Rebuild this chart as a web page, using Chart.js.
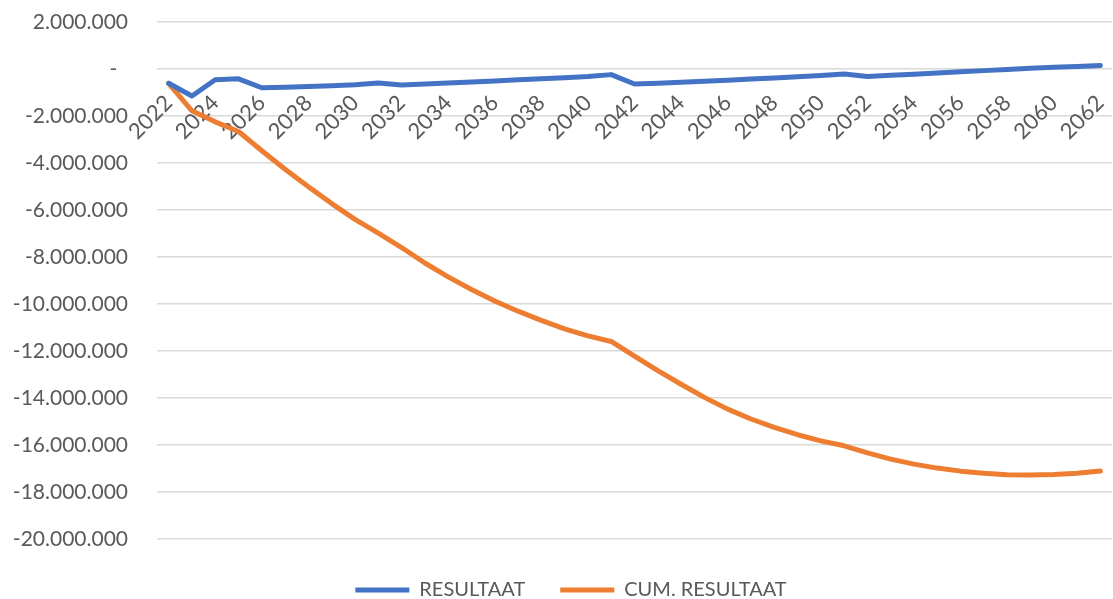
<!doctype html>
<html>
  <head>
    <script src="https://cdnjs.cloudflare.com/ajax/libs/Chart.js/4.4.1/chart.umd.js"></script>
    <style>
      html, body { margin: 0; padding: 0; background: #ffffff; }
      #wrap { width: 1113px; height: 599px; }
    </style>
    <script>
      let years = [2022, 2023, 2024, 2025, 2026, 2027, 2028, 2029, 2030, 2031,
                   2032, 2033, 2034, 2035, 2036, 2037, 2038, 2039, 2040, 2041,
                   2042, 2043, 2044, 2045, 2046, 2047, 2048, 2049, 2050, 2051,
                   2052, 2053, 2054, 2055, 2056, 2057, 2058, 2059, 2060, 2061, 2062];

      let resultaat = [-610000, -1150000, -460000, -420000, -800000, -780000, -750000, -710000, -670000, -600000,
                       -680000, -640000, -600000, -550000, -510000, -460000, -420000, -370000, -320000, -240000,
                       -640000, -610000, -570000, -520000, -480000, -430000, -380000, -330000, -280000, -210000,
                       -320000, -270000, -220000, -170000, -120000, -70000, -20000, 30000, 70000, 110000, 150000];

      let cumResultaat = [-610000, -1780000, -2250000, -2660000, -3480000, -4270000, -5010000, -5730000, -6400000, -6990000,
                          -7600000, -8260000, -8850000, -9390000, -9880000, -10310000, -10700000, -11060000, -11360000, -11600000,
                          -12220000, -12840000, -13420000, -13980000, -14480000, -14900000, -15260000, -15570000, -15830000, -16040000,
                          -16340000, -16610000, -16820000, -16990000, -17120000, -17210000, -17270000, -17280000, -17260000, -17210000, -17110000];

      let yMin = -20000000;
      let yMax = 2000000;
      let yStep = 2000000;

      let textColor = '#595959';
      let gridColor = '#d9d9d9';
      let fontName = 'Lato';

      // 1234567 -> "1.234.567", zero shown as a dash like the spreadsheet does
      function formatNumber(v) {
        if (v === 0) return '-  ';
        let s = Math.abs(Math.round(v)).toString().replace(/\B(?=(\d{3})+(?!\d))/g, '.');
        return (v < 0 ? '-' : '') + s;
      }

      // legend in the original sits a bit right of the page centre
      let legendShift = {
        id: 'legendShift',
        afterLayout: function (chart) {
          chart.legend.left += 30;
        }
      };

      let chart1;
      function startPage() {
        chart1 = new Chart(document.getElementById('c1'), {
          type: 'line',
          data: {
            labels: years,
            datasets: [{
              label: 'RESULTAAT',
              data: resultaat,
              borderColor: '#4472c4',
              backgroundColor: '#4472c4',
              borderWidth: 5,
              borderCapStyle: 'round',
              borderJoinStyle: 'round',
              pointRadius: 0,
              tension: 0
            }, {
              label: 'CUM. RESULTAAT',
              data: cumResultaat,
              borderColor: '#ed7d31',
              backgroundColor: '#ed7d31',
              borderWidth: 5,
              borderCapStyle: 'round',
              borderJoinStyle: 'round',
              pointRadius: 0,
              tension: 0
            }]
          },
          options: {
            responsive: true,
            maintainAspectRatio: false,
            animation: false,
            layout: { padding: { top: 22, right: 1, left: 0, bottom: -11 } },
            scales: {
              x: {
                position: { y: 0 },
                offset: true,
                grid: { display: false, drawTicks: false },
                border: { display: false },
                afterFit: function (scale) {
                  scale.paddingLeft = 0;
                  scale.paddingRight = 0;
                },
                ticks: {
                  autoSkip: false,
                  maxRotation: 45,
                  minRotation: 45,
                  padding: 21,
                  color: textColor,
                  font: { family: fontName, size: 22 },
                  callback: function (value, index) {
                    return index % 2 === 0 ? years[index] : '';
                  }
                }
              },
              y: {
                min: yMin,
                max: yMax,
                grid: { color: gridColor, lineWidth: 1.5, drawTicks: false },
                border: { display: false },
                afterFit: function (scale) {
                  scale.width = 157;
                  scale.paddingTop = 0;
                  scale.paddingBottom = 0;
                },
                ticks: {
                  stepSize: yStep,
                  padding: 29,
                  color: textColor,
                  font: { family: fontName, size: 21 },
                  callback: function (value) { return formatNumber(value); }
                }
              }
            },
            plugins: {
              tooltip: { enabled: false },
              legend: {
                position: 'bottom',
                title: { display: true, text: '', font: { size: 1 }, padding: { top: 5, bottom: 0 } },
                labels: {
                  usePointStyle: true,
                  pointStyle: 'line',
                  pointStyleWidth: 54,
                  padding: 35,
                  color: textColor,
                  font: { family: fontName, size: 20 }
                }
              }
            }
          },
          plugins: [legendShift]
        });
      }
    </script>
  </head>
  <body onload="startPage()">
    <div id="wrap">
      <canvas id="c1"></canvas>
    </div>
  </body>
</html>
